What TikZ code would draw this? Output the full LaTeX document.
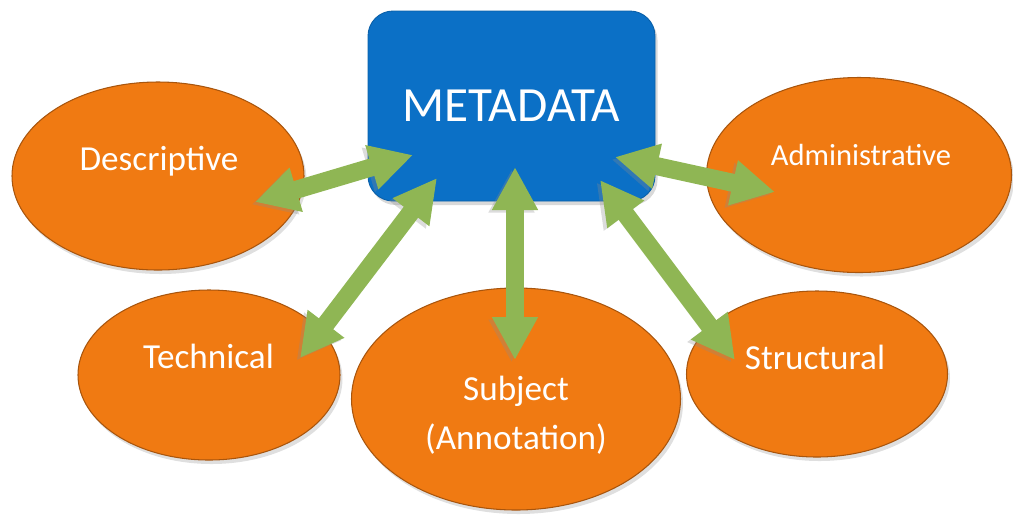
\documentclass[tikz,border=0pt]{standalone}
\usepackage{fontspec}
\setmainfont{Carlito}
\usetikzlibrary{arrows.meta,shapes.geometric,shadows}

\definecolor{metablue}{RGB}{11,112,198}
\definecolor{kindorange}{RGB}{240,122,18}
\definecolor{linkgreen}{RGB}{143,182,84}

\begin{document}
\begin{tikzpicture}[
  hub/.style={rectangle,rounded corners=0.5cm,fill=metablue,draw=metablue!85!black,line width=0.5pt,minimum width=5.74cm,minimum height=3.8cm,text=white,font=\fontsize{28}{33}\selectfont,drop shadow={opacity=0.3,shadow xshift=0.05cm,shadow yshift=-0.08cm}},
  kind/.style={ellipse,fill=kindorange,draw=kindorange!70!black,line width=0.6pt,drop shadow={opacity=0.25,shadow xshift=0.05cm,shadow yshift=-0.08cm}},
  kindtext/.style={anchor=base,text=white,font=\fontsize{20}{28}\selectfont},
  link/.style={{Triangle[length=0.86cm,width=0.86cm]}-{Triangle[length=0.86cm,width=0.86cm]},draw=linkgreen,line width=0.36cm,preaction={draw=black!45,opacity=0.3,transform canvas={xshift=-0.07cm,yshift=-0.05cm}}}
]
\useasboundingbox (0,0) rectangle (20.26,-10.32);

% Arten von Metadaten
\node[kind,minimum width=5.84cm,minimum height=3.76cm] (desc) at (3.16,-3.52) {};
\node[kind,minimum width=6.10cm,minimum height=3.90cm] (admin) at (17.18,-3.50) {};
\node[kind,minimum width=5.24cm,minimum height=3.40cm] (tech) at (4.18,-7.50) {};
\node[kind,minimum width=6.58cm,minimum height=4.44cm] (subj) at (10.32,-7.98) {};
\node[kind,minimum width=5.22cm,minimum height=3.32cm] (struct) at (16.34,-7.48) {};

\node[kindtext] (desc-txt) at (3.18,-3.40) {Descriptive};
\node[kindtext,font=\fontsize{17.4}{21}\selectfont] (admin-txt) at (17.22,-3.30) {Administrative};
\node[kindtext] (tech-txt) at (4.17,-7.36) {Technical};
\node[kindtext,anchor=center,align=center] (subj-txt) at (10.32,-8.30) {Subject\\(Annotation)};
\node[kindtext] (struct-txt) at (16.30,-7.38) {Structural};

% zentraler Kasten
\node[hub] (meta) at (10.23,-2.12) {METADATA};

% Pfeilenden
\coordinate (desc-end) at (5.10,-4.04);
\coordinate (desc-hub) at (8.26,-3.10);
\coordinate (tech-end) at (6.00,-7.16);
\coordinate (tech-hub) at (8.74,-3.56);
\coordinate (subj-end) at (10.30,-7.20);
\coordinate (subj-hub) at (10.30,-3.34);
\coordinate (admin-end) at (15.50,-3.84);
\coordinate (admin-hub) at (12.30,-3.14);
\coordinate (struct-end) at (14.70,-7.20);
\coordinate (struct-hub) at (12.00,-3.60);

\draw[link] (desc-end) -- (desc-hub);
\draw[link] (tech-end) -- (tech-hub);
\draw[link] (subj-end) -- (subj-hub);
\draw[link] (admin-end) -- (admin-hub);
\draw[link] (struct-end) -- (struct-hub);

\end{tikzpicture}
\end{document}
